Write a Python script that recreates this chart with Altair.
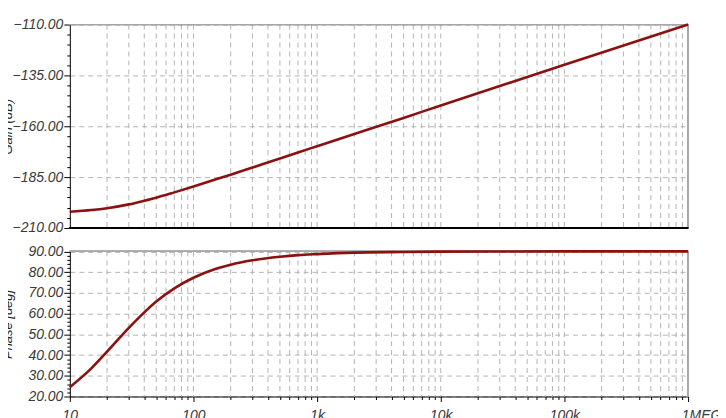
import altair as alt
import pandas as pd

# ---- data ----
freq = [10, 15, 20, 30, 40, 50, 70, 100, 150, 200, 300, 500, 700,
        1000, 2000, 5000, 10000, 100000, 1000000]
gain_db = [-202.0, -201.2, -200.3, -198.4, -196.6, -195.1, -192.5, -189.6,
           -186.2, -183.8, -180.3, -175.9, -172.9, -169.8, -163.8, -155.9,
           -149.8, -129.8, -110.0]
phase_deg = [24.5, 33.7, 41.6, 53.1, 60.6, 65.8, 72.2, 77.3, 81.5, 83.6,
             85.7, 87.4, 88.2, 88.7, 89.4, 89.7, 89.9, 90.0, 90.0]

freq_domain = [10, 1000000]
gain_domain = [-210, -110]
phase_domain = [20, 90]

decades = [10, 100, 1000, 10000, 100000, 1000000]
decade_names = ["10", "100", "1k", "10k", "100k", "1MEG"]
x_ticks = [m * d for d in decades[:-1] for m in range(1, 10)] + [decades[-1]]
gain_ticks = list(range(-210, -109, 5))
gain_major = [-210, -185, -160, -135, -110]
phase_ticks = list(range(20, 91, 2))
phase_major = [20, 30, 40, 50, 60, 70, 80, 90]

# ---- styling ----
LINE = "#8b1111"
GRID = "#b4b4b4"
FRAME = "#a8a8a8"
LABEL = "#3a3a3a"
FONT = "Liberation Sans"

curve = pd.DataFrame({"f": freq, "gain": gain_db, "phase": phase_deg})
vgrid = pd.DataFrame({"f": [v for v in x_ticks if v not in freq_domain]})


def in_list(vals):
    return "indexof([" + ",".join(str(v) for v in vals) + "], datum.value) >= 0"


x_label_expr = "".join(
    f"datum.value == {d} ? '{n}' : " for d, n in zip(decades, decade_names)
) + "''"

xs = alt.Scale(type="log", domain=freq_domain, nice=False)
ys_top = alt.Scale(domain=gain_domain, range=[204, 0], nice=False, zero=False)
ys_bot = alt.Scale(domain=phase_domain, range=[373, 227.5], nice=False, zero=False)

x_axis = alt.Axis(
    values=x_ticks, labelExpr=x_label_expr, grid=False, title=None,
    domainColor="black", tickColor="black",
    tickSize={"condition": {"test": in_list(decades), "value": 5}, "value": 3},
    labelOffset={"condition": {"test": "datum.value >= 1000000", "value": 13}, "value": 0},
    labelPadding=7, labelBaseline="top", labelOverlap=False, labelFlush=False,
    labelFont=FONT, labelFontStyle="italic", labelFontSize=14, labelColor=LABEL,
)


def y_axis(ticks, major, title):
    return alt.Axis(
        orient="left", values=ticks, title=title,
        labelExpr=f"{in_list(major)} ? format(datum.value, '.2f') : ''",
        grid=True, gridColor=GRID, gridDash=[5, 4], gridWidth=1,
        gridOpacity={"condition": {"test": in_list(major), "value": 1}, "value": 0},
        domainColor="black", tickColor="black",
        tickSize={"condition": {"test": in_list(major), "value": 6}, "value": 3},
        labelPadding=1, labelOverlap=False, labelFlush=False,
        labelFont=FONT, labelFontStyle="italic", labelFontSize=14, labelColor=LABEL,
        titleFont=FONT, titleFontStyle="italic", titleFontSize=13, titleFontWeight="normal",
        titleColor="#222222", titleX=-55,
    )


def panel(field, ys, dom, axis):
    line = alt.Chart(curve).mark_line(
        color=LINE, strokeWidth=2.6, interpolate="monotone"
    ).encode(
        x=alt.X("f:Q", scale=xs, axis=x_axis),
        y=alt.Y(f"{field}:Q", scale=ys, axis=axis),
    )
    grid = alt.Chart(vgrid).mark_rule(
        color=GRID, strokeDash=[5, 4], strokeWidth=1
    ).encode(
        x=alt.X("f:Q", scale=xs, axis=x_axis),
        y=alt.YDatum(dom[1], scale=ys, axis=axis),
        y2=alt.Y2Datum(dom[0]),
    )
    top_border = alt.Chart(curve).mark_rule(color=FRAME, strokeWidth=1).encode(
        x=alt.XDatum(freq_domain[0], scale=xs, axis=x_axis),
        x2=alt.X2Datum(freq_domain[1]),
        y=alt.YDatum(dom[1], scale=ys, axis=axis),
    )
    right_border = alt.Chart(curve).mark_rule(color=FRAME, strokeWidth=1).encode(
        x=alt.XDatum(freq_domain[1], scale=xs, axis=x_axis),
        y=alt.YDatum(dom[0], scale=ys, axis=axis),
        y2=alt.Y2Datum(dom[1]),
    )
    layers = [line, grid, top_border, right_border]
    if field == "gain":
        bottom_line = alt.Chart(curve).mark_rule(color="black", strokeWidth=1).encode(
            x=alt.XDatum(freq_domain[0], scale=xs, axis=x_axis),
            x2=alt.X2Datum(freq_domain[1]),
            y=alt.YDatum(dom[0], scale=ys, axis=axis),
        )
        layers.append(bottom_line)
    # draw the curve on top
    layers = layers[1:] + [layers[0]]
    return alt.layer(*layers)


top = panel("gain", ys_top, gain_domain, y_axis(gain_ticks, gain_major, "Gain (dB)"))
bottom = panel("phase", ys_bot, phase_domain, y_axis(phase_ticks, phase_major, "Phase [deg]"))

chart = alt.layer(top, bottom).resolve_scale(y="independent").properties(
    width=620, height=373,
    autosize=alt.AutoSizeParams(type="none"),
    padding={"left": 62, "top": 16, "right": 30, "bottom": 30},
    background="white",
).configure_view(stroke=None)

chart.save("out.html", embed_options={"renderer": "svg", "actions": False})
